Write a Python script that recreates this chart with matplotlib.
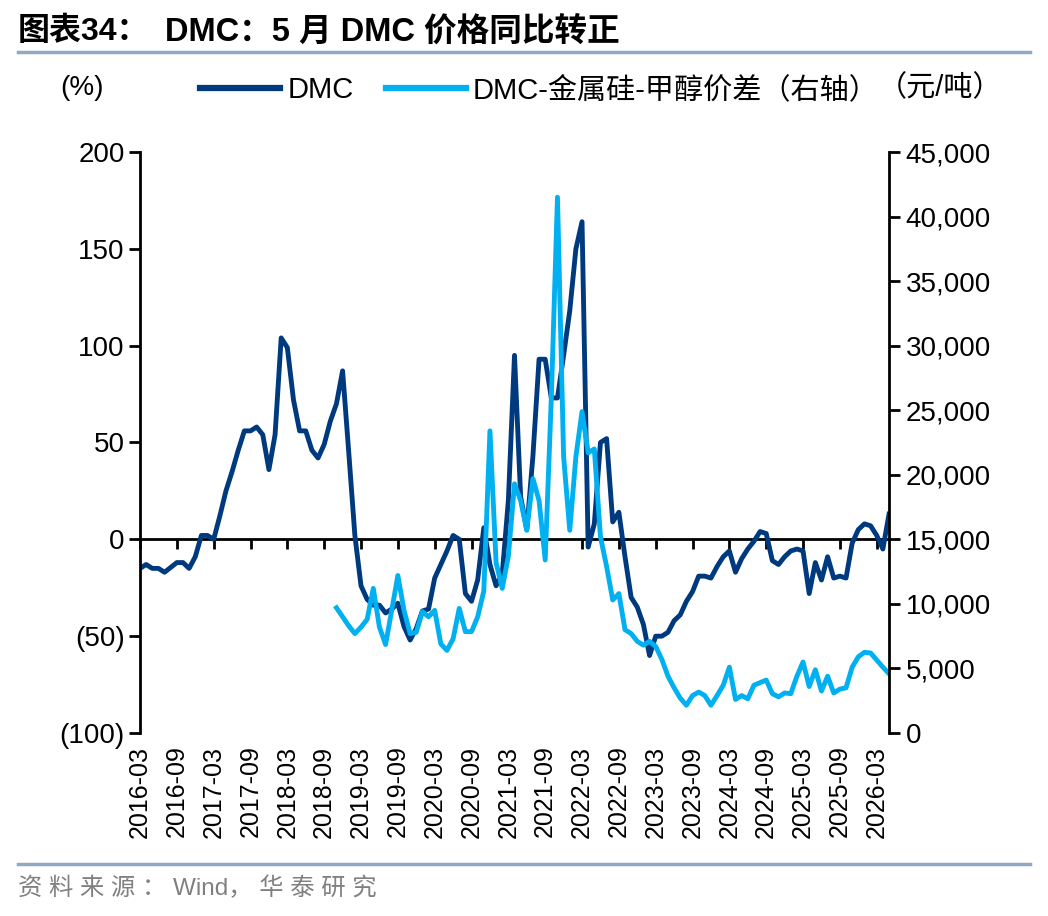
import numpy as np
import matplotlib
matplotlib.use('Agg')
import matplotlib.pyplot as plt
from matplotlib.lines import Line2D
from matplotlib.ticker import FuncFormatter

plt.rcParams['font.family'] = ['Liberation Sans', 'Noto Sans CJK SC']

# monthly data, 2016-03 .. 2026-05
tick_labels = ['2016-03', '2016-09', '2017-03', '2017-09', '2018-03', '2018-09',
               '2019-03', '2019-09', '2020-03', '2020-09', '2021-03', '2021-09',
               '2022-03', '2022-09', '2023-03', '2023-09', '2024-03', '2024-09',
               '2025-03', '2025-09', '2026-03']

# DMC price yoy (%)
dmc_yoy = [-15, -13, -15, -15, -17, -14.5, -12, -12, -15, -9, 2, 2, 0, 12, 25, 35, 46,
           56, 56, 58, 54, 36, 54, 104, 99, 72, 56, 56, 46, 42, 49, 61, 70, 87,
           45, 2, -24, -31, -34, -34, -38, -36, -33, -45, -52, -46, -37, -36, -20, -13,
           -6, 2, 0, -28, -32, -21, 6, -13, -24, -18, 20, 95, 22, 5,
           43, 93, 93, 73, 73, 95, 118, 150, 164, -4, 8, 50, 52, 9, 14, -9, -30, -35,
           -44, -60, -50, -50, -48, -42, -39, -32, -27, -19, -19, -20,
           -14, -9, -6, -17, -10, -5, -1, 4, 3, -11, -13, -9, -6, -5, -6, -28, -12,
           -21, -9, -20, -19, -20, -2, 5, 8, 7, 2, -5, 13]

# DMC - silicon metal - methanol spread (yuan/ton), starts 2018-11
spread = [np.nan] * 32 + [
    9700, 9000, 8300, 7700, 8200, 8800, 11200, 8200, 6850, 9500, 12200, 9500,
    7700, 7800, 9400, 9000, 9500, 6900, 6400, 7300, 9650, 7850, 7850, 9000,
    11000, 23400, 13200, 11200, 13700, 19300, 18000, 15700, 19700, 18000, 13400,
    26000, 41500, 21400, 15700, 21400, 24900, 21700, 22000, 15200, 12900, 10300,
    10800, 8000, 7700, 7100, 6800, 7100, 6700, 5700, 4400, 3500, 2700,
    2150, 2900, 3170, 2900, 2150, 2900, 3700, 5100, 2600, 2900, 2650, 3700, 3900,
    4100, 3050, 2800, 3100, 3050, 4400, 5500, 3600, 4900, 3250, 4400, 3100, 3400,
    3500, 5100, 5900, 6250, 6200, 5650, 5100, 4600]

x = np.arange(len(dmc_yoy))
dark = '#003A7E'
light = '#00B0F0'
fs = 20
lfs = 21
xfs = 18

fig = plt.figure(figsize=(10.48, 9.16), dpi=100)
ax = fig.add_axes([140/1048, 1-733/916, (889-140)/1048, (733-152)/916])
ax2 = ax.twinx()

l1, = ax.plot(x, dmc_yoy, color=dark, lw=3.5, solid_joinstyle='round')
l2, = ax2.plot(x, spread, color=light, lw=3.5, solid_joinstyle='round')

ax.set_xlim(0, len(x) - 1)
ax.set_ylim(-100, 200)
ax2.set_ylim(0, 45000)

ax.set_yticks(range(-100, 201, 50))
ax.yaxis.set_major_formatter(FuncFormatter(lambda v, p: f'({abs(int(v))})' if v < 0 else f'{int(v)}'))
ax2.set_yticks(range(0, 45001, 5000))
ax2.yaxis.set_major_formatter(FuncFormatter(lambda v, p: f'{int(v):,}'))

ax.set_xticks(range(0, 121, 6))
ax.set_xticklabels(tick_labels, rotation=90)
ax.tick_params(axis='x', length=0, pad=9, labelsize=xfs)
ax.tick_params(axis='y', direction='out', length=8, width=2, pad=3, labelsize=fs)
ax2.tick_params(axis='y', direction='out', length=8, width=2, pad=4, labelsize=fs)

for s in ['top', 'bottom', 'right']:
    ax.spines[s].set_visible(False)
for s in ['top', 'bottom', 'left']:
    ax2.spines[s].set_visible(False)
ax.spines['left'].set_linewidth(2)
ax2.spines['right'].set_linewidth(2)

# zero line with ticks
sec = ax.secondary_xaxis(1/3)
sec.set_xticks(range(0, 121, 6))
sec.tick_params(direction='out', length=7, width=2, labelbottom=False, labeltop=False)
sec.spines['bottom'].set_linewidth(2)

leg = ax2.legend([l1, l2], ['DMC', 'DMC-金属硅-甲醇价差（右轴）'], loc='center left',
                 bbox_to_anchor=(200/1048, 1-90/916), bbox_transform=fig.transFigure,
                 ncol=2, frameon=False, fontsize=lfs, handlelength=2.75, handletextpad=0.24,
                 columnspacing=1.1, borderpad=0, borderaxespad=0)
for ln in leg.get_lines():
    ln.set_linewidth(4.5)

fig.text(82/1048, 1-88/916, '(%)', ha='center', va='center', fontsize=fs)
fig.text(940/1048, 1-88/916, '（元/吨）', ha='center', va='center', fontsize=lfs)

fig.text(18/1048, 1-32/916, '图表34：', ha='left', va='center', fontsize=23, fontweight='bold')
fig.text(165/1048, 1-32/916, 'DMC：5 月 DMC 价格同比转正', ha='left', va='center',
         fontsize=23.5, fontweight='bold')
fig.add_artist(Line2D([18/1048, 1030/1048], [1-52/916]*2, color='#91A9C6', lw=2.5))
fig.add_artist(Line2D([18/1048, 1030/1048], [1-864/916]*2, color='#91A9C6', lw=2.5))
fig.text(18/1048, 1-888/916, '资 料 来 源 ： Wind， 华 泰 研 究', ha='left', va='center',
         fontsize=17.5, color='#808080')

fig.savefig('out.png', dpi=100)
